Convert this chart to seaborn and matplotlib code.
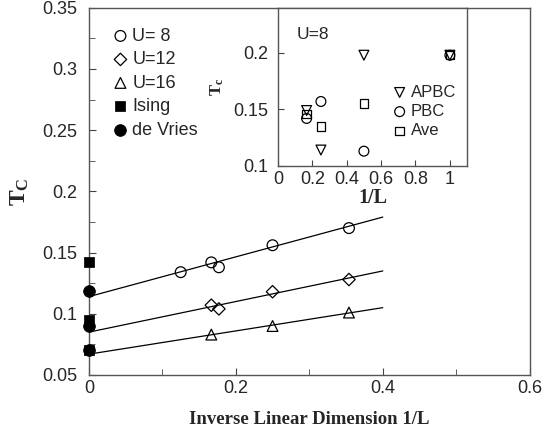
import numpy as np
import pandas as pd
import matplotlib
matplotlib.use("Agg")
import matplotlib.pyplot as plt
from matplotlib.ticker import MultipleLocator
import seaborn as sns

# main panel: Tc vs 1/L
x_u8 = [0.125, 1/6, 0.177, 0.25, 0.354]
t_u8 = [0.134, 0.142, 0.138, 0.156, 0.170]
x_u12 = [1/6, 0.177, 0.25, 0.354]
t_u12 = [0.107, 0.104, 0.118, 0.128]
x_u16 = [1/6, 0.25, 0.354]
t_u16 = [0.083, 0.090, 0.101]
ising_t = [0.142, 0.095, 0.070]
devries_t = [0.119, 0.090, 0.070]

# linear fits (intercept, slope) drawn over 0..0.4
fit_x = [0.0, 0.4]
fit_icpt = [0.114, 0.085, 0.067]
fit_slope = [0.1625, 0.125, 0.095]

# inset: U=8, different boundary conditions
inv_L = [1/6, 0.25, 0.5, 1.0]
t_apbc = [0.149, 0.114, 0.198, 0.198]
t_pbc = [0.142, 0.157, 0.113, 0.198]
t_ave = [0.146, 0.135, 0.155, 0.198]

sns.set_style("ticks")
plt.rcParams["font.family"] = ["Liberation Sans", "DejaVu Sans"]
plt.rcParams["mathtext.fontset"] = "custom"
plt.rcParams["mathtext.bf"] = "Liberation Serif:bold"
plt.rcParams["mathtext.rm"] = "Liberation Serif"

fig = plt.figure(figsize=(5.45, 4.33), dpi=100)
ax = fig.add_axes([0.163, 0.134, 0.809, 0.848])

mk = dict(facecolor="none", edgecolor="black", linewidth=0.9, s=60, zorder=3)
for i in range(3):
    xs = np.array(fit_x)
    sns.lineplot(x=xs, y=fit_icpt[i] + fit_slope[i] * xs, ax=ax, color="black",
                 linewidth=0.9, zorder=2)
sns.scatterplot(x=x_u8, y=t_u8, ax=ax, marker="o", label="U= 8", **mk)
sns.scatterplot(x=x_u12, y=t_u12, ax=ax, marker="D", label="U=12",
                **{**mk, "s": 40})
sns.scatterplot(x=x_u16, y=t_u16, ax=ax, marker="^", label="U=16", **mk)
sns.scatterplot(x=[0] * len(ising_t), y=ising_t, ax=ax, marker="s", color="black",
                edgecolor="black", s=42, label="Ising", zorder=4, clip_on=False)
sns.scatterplot(x=[0] * len(devries_t), y=devries_t, ax=ax, marker="o", color="black",
                edgecolor="black", s=70, label="de Vries", zorder=5, clip_on=False)

ax.set_xlim(0, 0.6)
ax.set_ylim(0.05, 0.35)
ax.xaxis.set_minor_locator(MultipleLocator(0.1))
ax.yaxis.set_minor_locator(MultipleLocator(0.025))
ax.set_xticks([0, 0.2, 0.4, 0.6], ["0", "0.2", "0.4", "0.6"])
ax.set_yticks([0.05, 0.1, 0.15, 0.2, 0.25, 0.3, 0.35],
              ["0.05", "0.1", "0.15", "0.2", "0.25", "0.3", "0.35"])
ax.tick_params(which="both", direction="in", labelsize=13, color="#444444")
ax.tick_params(which="major", length=5)
ax.tick_params(which="minor", length=4)
ax.tick_params(axis="y", pad=8)
for sp in ax.spines.values():
    sp.set_color("#555555")
    sp.set_linewidth(1.0)
ax.set_xlabel("Inverse Linear Dimension 1/L", family="Liberation Serif",
              fontweight="bold", fontsize=13.5, labelpad=10)
ax.set_ylabel(r"$\mathbf{T_C}$", fontsize=17, labelpad=8)
ax.legend(loc="upper left", frameon=False, fontsize=13, handletextpad=0.0,
          handlelength=1.3, labelspacing=0.36, borderaxespad=0.7,
          bbox_to_anchor=(0.0, 1.0))

# inset
ins = fig.add_axes([0.510, 0.617, 0.347, 0.365])
mi = dict(facecolor="none", edgecolor="black", linewidth=0.9, s=50, zorder=3)
sns.scatterplot(x=inv_L, y=t_apbc, ax=ins, marker="v", label="APBC", **mi)
sns.scatterplot(x=inv_L, y=t_pbc, ax=ins, marker="o", label="PBC", **mi)
sns.scatterplot(x=inv_L, y=t_ave, ax=ins, marker="s", label="Ave", **{**mi, "s": 38})
ins.set_xlim(0, 1.1)
ins.set_ylim(0.1, 0.24)
ins.set_xticks([0, 0.2, 0.4, 0.6, 0.8, 1.0], ["0", "0.2", "0.4", "0.6", "0.8", "1"])
ins.set_yticks([0.1, 0.15, 0.2], ["0.1", "0.15", "0.2"])
ins.tick_params(direction="in", labelsize=13, length=4, color="#444444")
ins.tick_params(axis="y", pad=7)
for sp in ins.spines.values():
    sp.set_color("#555555")
    sp.set_linewidth(1.0)
ins.set_xlabel("1/L", family="Liberation Serif", fontweight="bold", fontsize=14.5,
               labelpad=0)
ins.set_ylabel(r"$\mathbf{T_c}$", fontsize=12, labelpad=5)
ins.text(0.1, 0.83, "U=8", transform=ins.transAxes, fontsize=12.5, va="center")
ins.legend(loc="lower right", bbox_to_anchor=(1.02, 0.08), frameon=False,
           fontsize=12, handletextpad=0.0, handlelength=1.3, labelspacing=0.25)

fig.savefig("out.png", dpi=100)
